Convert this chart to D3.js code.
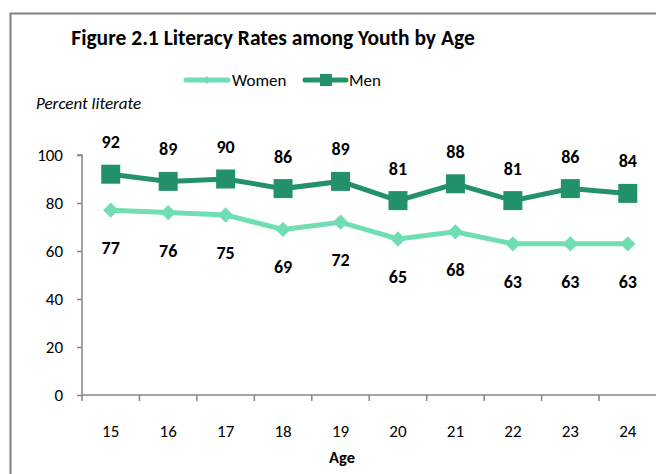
<!DOCTYPE html>
<html><head><meta charset="utf-8">
<script src="https://cdn.jsdelivr.net/npm/d3@7"></script>
<style>body{margin:0;background:#fff}svg{display:block}text{font-family:Carlito,Calibri,Lato,"Open Sans",sans-serif;fill:#000}</style>
</head><body><svg id="c" width="656" height="474"></svg>
<script>
const ages = ["15","16","17","18","19","20","21","22","23","24"];
const women = [77,76,75,69,72,65,68,63,63,63];
const men = [92,89,90,86,89,81,88,81,86,84];
const yTicks = [0,20,40,60,80,100];
const title = "Figure 2.1 Literacy Rates among Youth by Age";

const svg = d3.select("#c");
const colW = "#6fdfb3", colM = "#239268", axisCol = "#868686";

// outer border
svg.append("path").attr("d","M10.5,474 V13.5 H656").attr("fill","none").attr("stroke","#808080").attr("stroke-width",2);

const x = d3.scaleBand().domain(ages).range([82, 656.5]).paddingInner(0).paddingOuter(0);
const y = d3.scaleLinear().domain([0,100]).range([395,155]);

// title
svg.append("text").attr("x",273).attr("y",45).attr("text-anchor","middle")
  .style("font-size","21.5px").style("font-weight","bold").text(title);

// y axis
const ya = svg.append("g").attr("transform","translate(82,0)")
  .call(d3.axisLeft(y).tickValues(yTicks).tickSize(5).tickPadding(14));
ya.select(".domain").attr("stroke",axisCol).attr("stroke-width",1.5).attr("d","M-5,"+y(100)+"H0V"+y(0));
ya.selectAll(".tick line").attr("stroke",axisCol).attr("stroke-width",1.5);
ya.selectAll(".tick text").style("font-size","17px").attr("fill","#000");

// x axis
const xa = svg.append("g").attr("transform","translate(0,395)")
  .call(d3.axisBottom(x).tickSize(0).tickPadding(30));
xa.select(".domain").attr("stroke",axisCol).attr("stroke-width",1.5).attr("d","M82,0H656");
xa.selectAll(".tick text").style("font-size","17px").attr("fill","#000");
xa.selectAll(".bnd").data(ages).enter().append("line").attr("class","bnd")
  .attr("x1",d=>x(d)).attr("x2",d=>x(d)).attr("y1",0).attr("y2",6)
  .attr("stroke",axisCol).attr("stroke-width",1.5);

svg.append("text").attr("x",342).attr("y",463).attr("text-anchor","middle")
  .style("font-size","16.5px").style("font-weight","bold").text("Age");
svg.append("text").attr("x",36).attr("y",109)
  .style("font-size","17px").style("font-style","italic").text("Percent literate");

const cx = d => x(d) + x.bandwidth()/2;
const line = d3.line().x((d,i)=>cx(ages[i])).y(d=>y(d));

// women
svg.append("path").datum(women).attr("d",line).attr("fill","none").attr("stroke",colW).attr("stroke-width",5);
svg.selectAll(".wm").data(women).enter().append("path").attr("class","wm")
  .attr("transform",(d,i)=>`translate(${cx(ages[i])},${y(d)})`)
  .attr("d",d3.symbol(d3.symbolDiamond2,150)).attr("fill",colW);
// men
svg.append("path").datum(men).attr("d",line).attr("fill","none").attr("stroke",colM).attr("stroke-width",5);
svg.selectAll(".mm").data(men).enter().append("rect").attr("class","mm")
  .attr("x",(d,i)=>cx(ages[i])-9.5).attr("y",d=>y(d)-9.5).attr("width",19).attr("height",19).attr("fill",colM);

// labels
svg.selectAll(".ml").data(men).enter().append("text").attr("class","ml")
  .attr("x",(d,i)=>cx(ages[i])).attr("y",d=>y(d)-26).attr("text-anchor","middle")
  .style("font-size","18px").style("font-weight","bold").text(d=>d);
svg.selectAll(".wl").data(women).enter().append("text").attr("class","wl")
  .attr("x",(d,i)=>cx(ages[i])).attr("y",d=>y(d)+44).attr("text-anchor","middle")
  .style("font-size","18px").style("font-weight","bold").text(d=>d);

// legend
const lg = svg.append("g");
lg.append("line").attr("x1",186).attr("x2",228).attr("y1",80).attr("y2",80).attr("stroke",colW).attr("stroke-width",5).attr("stroke-linecap","round");
lg.append("path").attr("transform","translate(207,80)").attr("d",d3.symbol(d3.symbolDiamond2,40)).attr("fill",colW);
lg.append("text").attr("x",232).attr("y",86).style("font-size","17px").text("Women");
lg.append("line").attr("x1",305).attr("x2",346).attr("y1",80).attr("y2",80).attr("stroke",colM).attr("stroke-width",5).attr("stroke-linecap","round");
lg.append("rect").attr("x",320).attr("y",74).attr("width",12).attr("height",12).attr("fill",colM);
lg.append("text").attr("x",349).attr("y",86).style("font-size","17px").text("Men");
</script></body></html>
